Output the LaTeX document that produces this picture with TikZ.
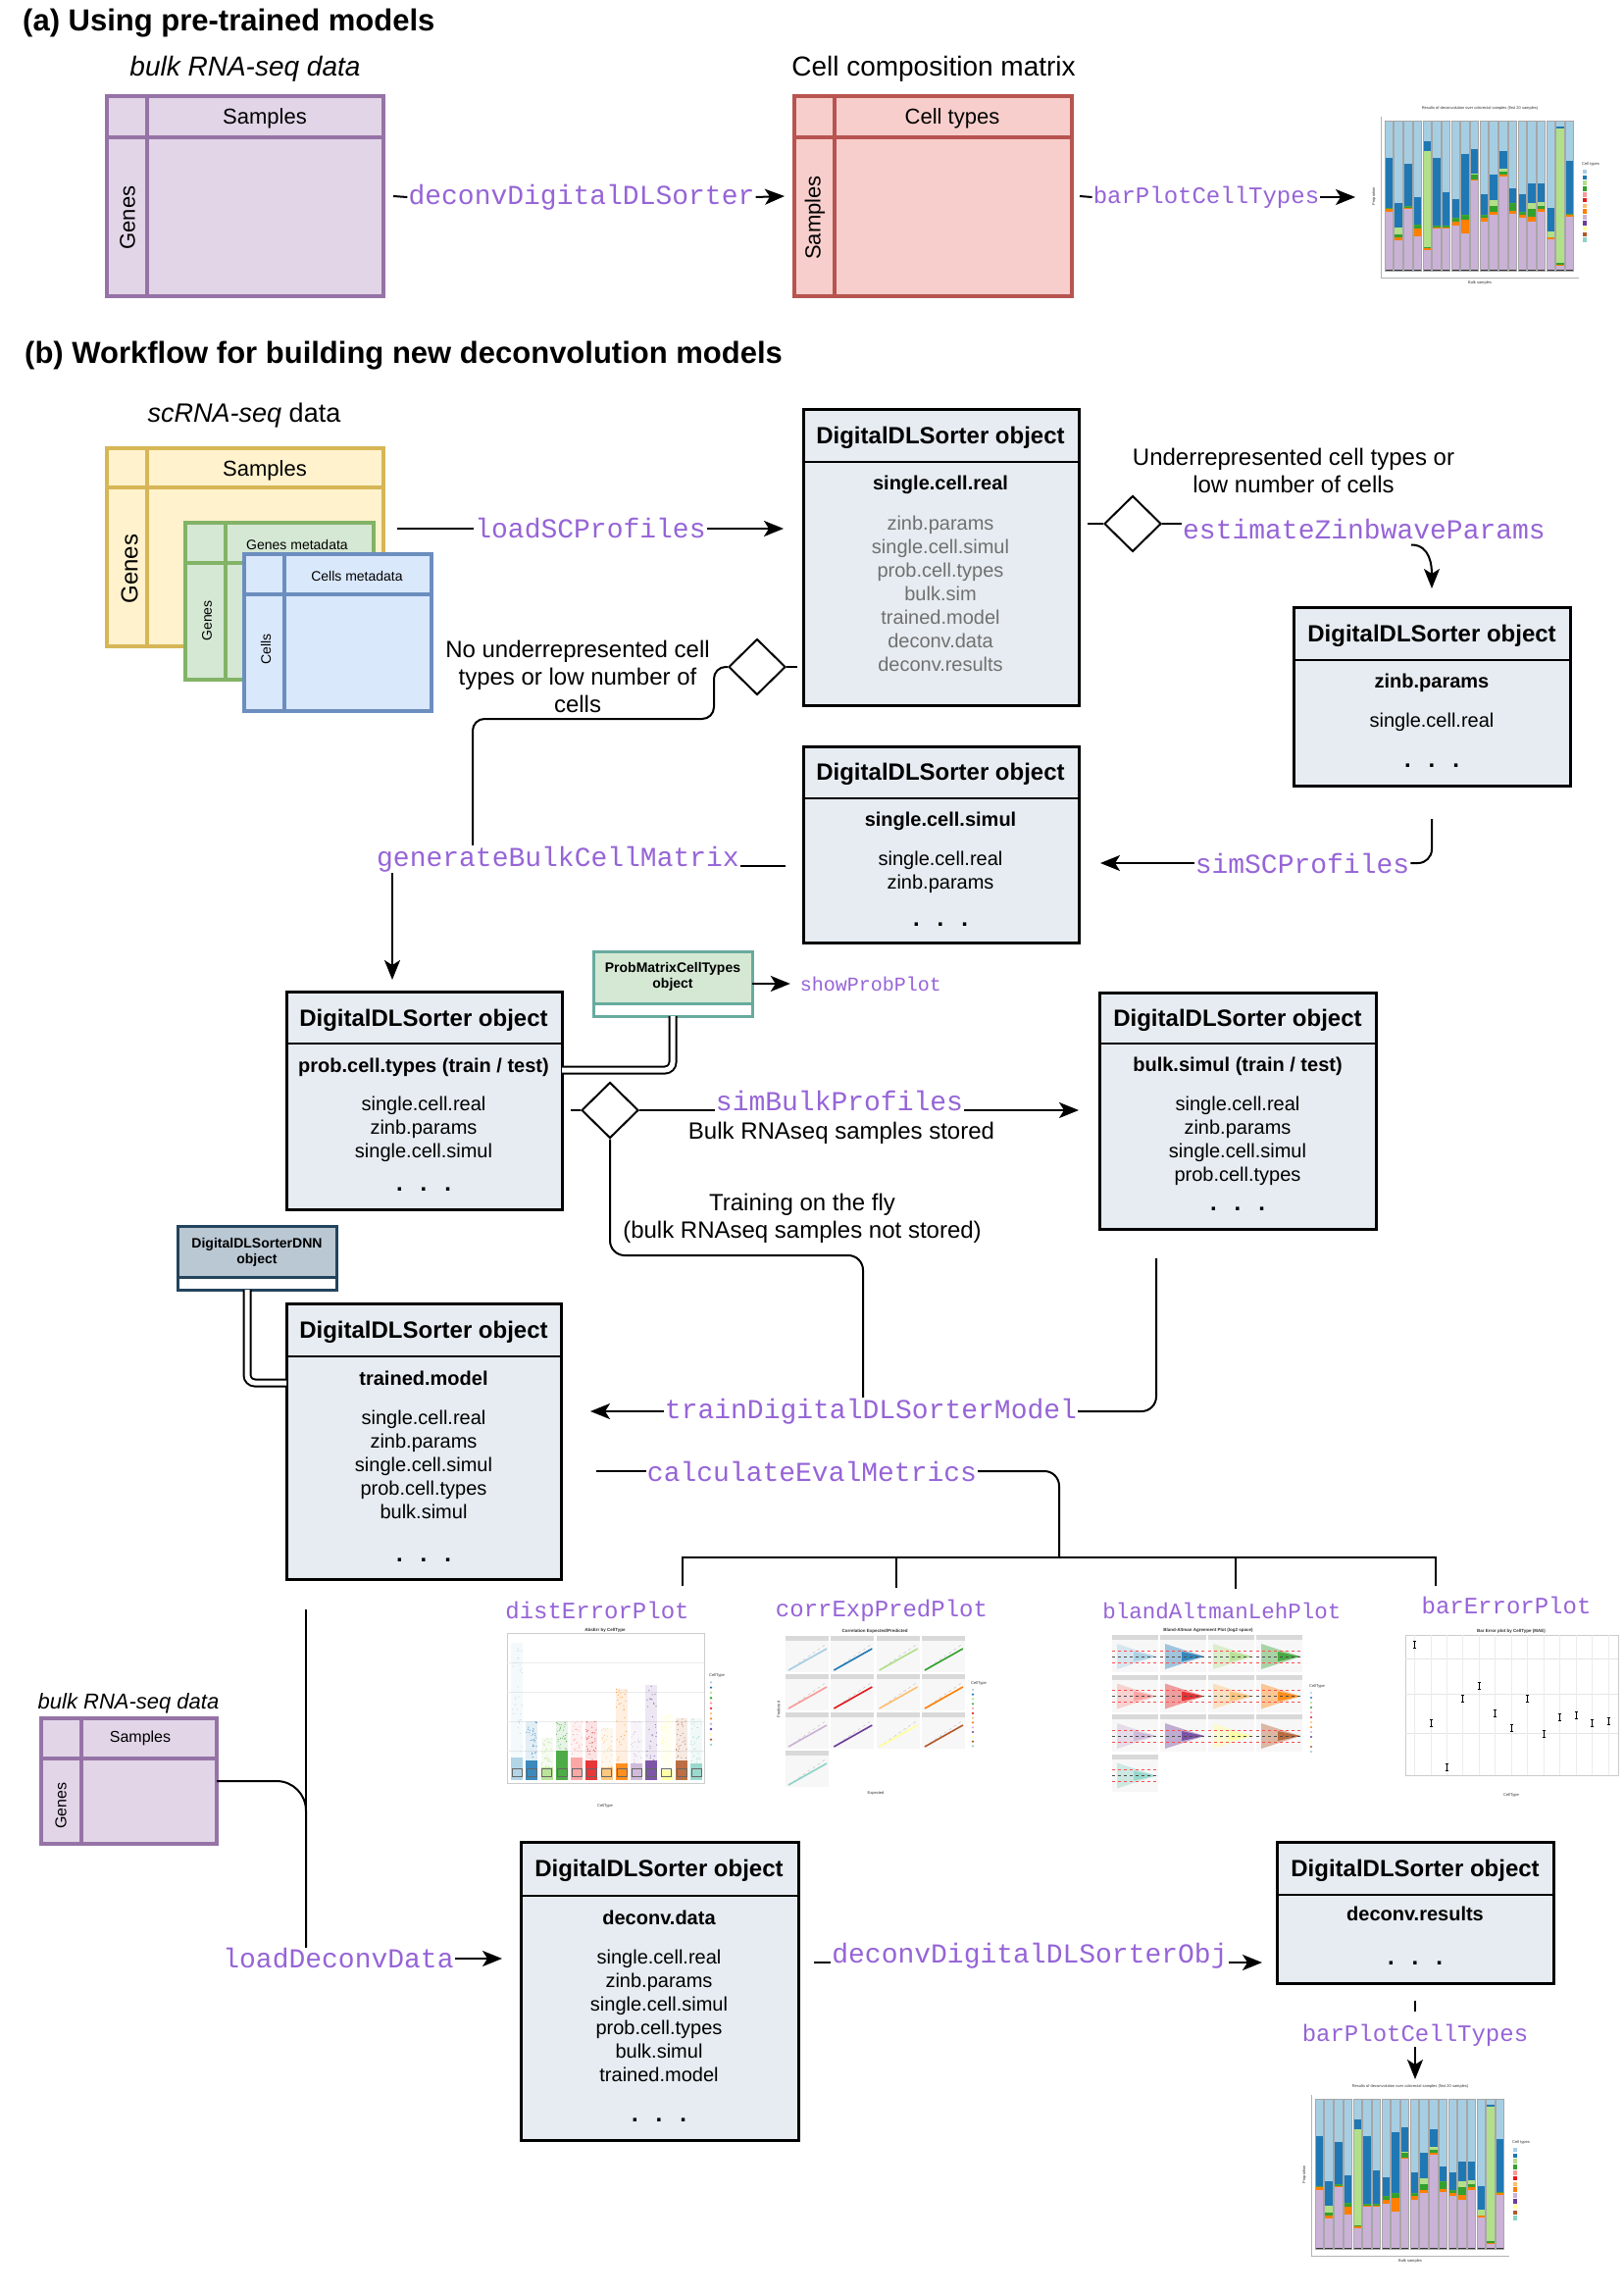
\documentclass[tikz,border=0pt]{standalone}
\usepackage{fontspec}
\setmainfont{Liberation Sans}
\setmonofont{Liberation Mono}
\usetikzlibrary{arrows.meta, shapes.geometric}

\definecolor{fnpurple}{RGB}{150,100,215}
\definecolor{bulkfill}{HTML}{E1D5E7}\definecolor{bulkline}{HTML}{9673A6}
\definecolor{compfill}{HTML}{F8CECC}\definecolor{compline}{HTML}{B85450}
\definecolor{scfill}{HTML}{FFF2CC}\definecolor{scline}{HTML}{D6B656}
\definecolor{genefill}{HTML}{D5E8D4}\definecolor{geneline}{HTML}{82B366}
\definecolor{cellfill}{HTML}{DAE8FC}\definecolor{cellline}{HTML}{6C8EBF}
\definecolor{objfill}{HTML}{E6ECF1}
\definecolor{probline}{HTML}{67AB9F}
\definecolor{dnnfill}{HTML}{BAC8D3}\definecolor{dnnline}{HTML}{23445D}
\definecolor{itemgray}{HTML}{707070}
% paired palette of the plots
\definecolor{cbLBlue}{HTML}{A6CEE3}\definecolor{cbDBlue}{HTML}{1F78B4}
\definecolor{cbLGreen}{HTML}{B2DF8A}\definecolor{cbGreen}{HTML}{33A02C}
\definecolor{cbPink}{HTML}{FB9A99}\definecolor{cbRed}{HTML}{E31A1C}
\definecolor{cbLOrange}{HTML}{FDBF6F}\definecolor{cbOrange}{HTML}{FF7F00}
\definecolor{cbLav}{HTML}{CAB2D6}\definecolor{cbPurple}{HTML}{6A3D9A}
\definecolor{cbYellow}{HTML}{FFFF99}\definecolor{cbBrown}{HTML}{B15928}
\definecolor{cbTeal}{HTML}{8DD3C7}

% stacked bar plot of cell proportions, #1,#2 = top left of the panel
\newcommand{\cellbars}[2]{%
\begin{scope}[shift={(#1,#2)}]
	\node[tinytxt] at (97,-13) {Results of deconvolution over colorectal samples (first 20 samples)};
	\draw[gray!60, line width=0.6pt] (-4,-4) -- (-4,160) -- (198,160);
	\node[tinytxt] at (97,165) {Bulk samples};
	\node[tinytxt, rotate=90] at (-11,77) {Proportion};
	\foreach \pa/\pb/\pc/\pd/\pe [count=\i] in {.39/.41/.42/.42/.75, .20/.22/.24/.29/.45, .41/.42/.43/.43/.71, .23/.28/.31/.31/.49, .14/.15/.16/.80/.86, .28/.29/.30/.30/.75, .28/.29/.30/.30/.52, .30/.33/.35/.35/.48, .25/.34/.37/.37/.78, .60/.61/.64/.65/.81, .33/.35/.37/.37/.51, .37/.39/.43/.47/.64, .63/.64/.66/.68/.80, .38/.40/.45/.45/.55, .35/.37/.39/.39/.51, .33/.36/.41/.45/.58, .39/.41/.43/.46/.58, .21/.22/.22/.26/.42, .03/.04/.05/.95/.96, .36/.37/.38/.38/.73}{
		\pgfmathsetmacro\xl{(\i-1)*9.7}
		\pgfmathsetmacro\xr{\xl+8.4}
		\fill[cbLav] (\xl,153) rectangle (\xr,{153*(1-\pa)});
		\fill[cbOrange] (\xl,{153*(1-\pa)}) rectangle (\xr,{153*(1-\pb)});
		\fill[cbGreen] (\xl,{153*(1-\pb)}) rectangle (\xr,{153*(1-\pc)});
		\fill[cbLGreen] (\xl,{153*(1-\pc)}) rectangle (\xr,{153*(1-\pd)});
		\fill[cbDBlue] (\xl,{153*(1-\pd)}) rectangle (\xr,{153*(1-\pe)});
		\fill[cbLBlue] (\xl,{153*(1-\pe)}) rectangle (\xr,0);
		\fill[black!80] (\xl,151.5) rectangle (\xr,153);
		\draw[gray!70, line width=0.5pt] (\xl,0) rectangle (\xr,153);
	}
	\node[tinytxt, anchor=west] at (201,44) {Cell types};
	\foreach \col [count=\k] in {cbLBlue,cbDBlue,cbLGreen,cbGreen,cbPink,cbRed,cbLOrange,cbOrange,cbLav,cbPurple,cbYellow,cbBrown,cbTeal}
		\fill[\col] (202,{44+\k*5.8}) rectangle (206,{48.5+\k*5.8});
\end{scope}}

\begin{document}
\begin{tikzpicture}[x=1pt, y=-1pt,
	conn/.style={line width=2pt},
	arr/.style={conn, -{Stealth[length=20pt, width=16pt, inset=5pt]}},
	dbl/.style={double, double distance=5pt, line width=2pt},
	fn/.style={font=\fontsize{28}{32}\selectfont\ttfamily, text=fnpurple, inner sep=1pt},
	fnsm/.style={fn, font=\fontsize{24}{28}\selectfont\ttfamily},
	fnxs/.style={fn, font=\fontsize{20}{24}\selectfont\ttfamily},
	note/.style={font=\fontsize{24}{28}\selectfont, align=center, inner sep=0pt},
	matbox/.style={rectangle, line width=4pt, anchor=north west, inner sep=0pt, outer sep=0pt},
	objbox/.style={rectangle, draw=black, line width=3pt, fill=objfill, anchor=north west, inner sep=0pt, outer sep=0pt},
	objtitle/.style={font=\fontsize{24}{28}\selectfont\bfseries, inner sep=0pt},
	objmain/.style={font=\fontsize{20}{24}\selectfont\bfseries, inner sep=0pt},
	objitems/.style={font=\fontsize{20}{24}\selectfont, align=center, inner sep=0pt},
	objdots/.style={font=\fontsize{24}{24}\selectfont\bfseries, inner sep=0pt},
	choice/.style={diamond, draw, line width=2pt, fill=white, minimum width=58pt, minimum height=57pt, inner sep=0pt},
	tinytxt/.style={font=\fontsize{4}{5}\selectfont, inner sep=0pt, text=black!80},
	]
	\useasboundingbox (0,0) rectangle (1656,2339);
	\fill[white] (0,0) rectangle (1656,2339);

	% ---- (a) pre-trained models
	\node[font=\fontsize{31}{36}\selectfont\bfseries, anchor=base west, inner sep=0pt] (titleA) at (23,32) {(a) Using pre-trained models};
	\node[font=\fontsize{28}{32}\selectfont\itshape, anchor=base, inner sep=0pt] (capBulkA) at (250,78) {bulk RNA-seq data};
	\node[font=\fontsize{28}{32}\selectfont, anchor=base, inner sep=0pt] (capComp) at (952,78) {Cell composition matrix};

	\node[matbox, draw=bulkline, fill=bulkfill, minimum width=282pt, minimum height=204pt] (bulkA) at (109,98) {};
	\draw[bulkline, line width=4pt] ([xshift=41pt]bulkA.north west) -- ([xshift=41pt]bulkA.south west)
		([yshift=-42pt]bulkA.north west) -- ([yshift=-42pt]bulkA.north east);
	\node[font=\fontsize{22}{26}\selectfont] (bulkAs) at (270,121) {Samples};
	\node[font=\fontsize{22}{26}\selectfont, rotate=90] (bulkAg) at (130,222) {Genes};

	\node[matbox, draw=compline, fill=compfill, minimum width=283pt, minimum height=204pt] (compA) at (810,98) {};
	\draw[compline, line width=4pt] ([xshift=41pt]compA.north west) -- ([xshift=41pt]compA.south west)
		([yshift=-42pt]compA.north west) -- ([yshift=-42pt]compA.north east);
	\node[font=\fontsize{22}{26}\selectfont] (compAc) at (971,121) {Cell types};
	\node[font=\fontsize{22}{26}\selectfont, rotate=90] (compAs) at (831,222) {Samples};

	\node[fn] (lblDeconvA) at (593,201) {deconvDigitalDLSorter};
	\draw[conn] ([xshift=10pt]bulkA.east) -- (lblDeconvA.west);
	\draw[arr] (lblDeconvA.east) -- ([xshift=-10pt]compA.west);

	\node[fnsm] (lblBarA) at (1230,201) {barPlotCellTypes};
	\coordinate (barAIn) at (1382,201);
	\draw[conn] ([xshift=8pt]compA.east) -- (lblBarA.west);
	\draw[arr] (lblBarA.east) -- (barAIn);
	\cellbars{1412}{123}

	% ---- (b) new models
	\node[font=\fontsize{31}{36}\selectfont\bfseries, anchor=base west, inner sep=0pt] (titleB) at (25,370) {(b) Workflow for building new deconvolution models};
	\node[font=\fontsize{27}{32}\selectfont, anchor=base, inner sep=0pt] (capSc) at (249,430) {\textit{scRNA-seq} data};

	\node[matbox, draw=scline, fill=scfill, minimum width=282pt, minimum height=202pt] (scYellow) at (109,457) {};
	\draw[scline, line width=4pt] ([xshift=41pt]scYellow.north west) -- ([xshift=41pt]scYellow.south west)
		([yshift=-40pt]scYellow.north west) -- ([yshift=-40pt]scYellow.north east);
	\node[font=\fontsize{22}{26}\selectfont] (scYs) at (270,480) {Samples};
	\node[font=\fontsize{24}{28}\selectfont, rotate=90] (scYg) at (132,580) {Genes};

	\node[matbox, draw=geneline, fill=genefill, minimum width=192pt, minimum height=160pt] (scGreen) at (189,533) {};
	\draw[geneline, line width=4pt] ([xshift=41pt]scGreen.north west) -- ([xshift=41pt]scGreen.south west)
		([yshift=-41pt]scGreen.north west) -- ([yshift=-41pt]scGreen.north east);
	\node[font=\fontsize{14}{16}\selectfont] (scGm) at (303,555) {Genes metadata};
	\node[font=\fontsize{14}{16}\selectfont, rotate=90] (scGg) at (211,633) {Genes};

	\node[matbox, draw=cellline, fill=cellfill, minimum width=191pt, minimum height=160pt] (scBlue) at (249,565) {};
	\draw[cellline, line width=4pt] ([xshift=41pt]scBlue.north west) -- ([xshift=41pt]scBlue.south west)
		([yshift=-41pt]scBlue.north west) -- ([yshift=-41pt]scBlue.north east);
	\node[font=\fontsize{14}{16}\selectfont] (scBm) at (364,587) {Cells metadata};
	\node[font=\fontsize{14}{16}\selectfont, rotate=90] (scBc) at (271,662) {Cells};

	% DigitalDLSorter objects
	\node[objbox, minimum width=281pt, minimum height=302pt] (objReal) at (819,417) {};
	\draw[line width=2.5pt] ([yshift=-54pt]objReal.north west) -- ([yshift=-54pt]objReal.north east);
	\node[objtitle] (objRealT) at (959,446) {DigitalDLSorter object};
	\node[objmain] (objRealM) at (959,494) {single.cell.real};
	\node[objitems, text=itemgray] (objRealI) at (959,605) {zinb.params\\single.cell.simul\\prob.cell.types\\bulk.sim\\trained.model\\deconv.data\\deconv.results};

	\node[objbox, minimum width=282pt, minimum height=182pt] (objZinb) at (1319,619) {};
	\draw[line width=2.5pt] ([yshift=-54pt]objZinb.north west) -- ([yshift=-54pt]objZinb.north east);
	\node[objtitle] (objZinbT) at (1460,648) {DigitalDLSorter object};
	\node[objmain] (objZinbM) at (1460,696) {zinb.params};
	\node[objitems] (objZinbI) at (1460,736) {single.cell.real};
	\node[objdots] (objZinbD) at (1460,781) {.\hspace{18pt}.\hspace{18pt}.};

	\node[objbox, minimum width=281pt, minimum height=200pt] (objSimul) at (819,761) {};
	\draw[line width=2.5pt] ([yshift=-53pt]objSimul.north west) -- ([yshift=-53pt]objSimul.north east);
	\node[objtitle] (objSimulT) at (959,789) {DigitalDLSorter object};
	\node[objmain] (objSimulM) at (959,837) {single.cell.simul};
	\node[objitems] (objSimulI) at (959,889) {single.cell.real\\zinb.params};
	\node[objdots] (objSimulD) at (959,943) {.\hspace{18pt}.\hspace{18pt}.};

	\node[objbox, minimum width=281pt, minimum height=222pt] (objProb) at (292,1011) {};
	\draw[line width=2.5pt] ([yshift=-53pt]objProb.north west) -- ([yshift=-53pt]objProb.north east);
	\node[objtitle] (objProbT) at (432,1040) {DigitalDLSorter object};
	\node[objmain] (objProbM) at (432,1088) {prob.cell.types (train / test)};
	\node[objitems] (objProbI) at (432,1151) {single.cell.real\\zinb.params\\single.cell.simul};
	\node[objdots] (objProbD) at (432,1213) {.\hspace{18pt}.\hspace{18pt}.};

	\node[objbox, minimum width=282pt, minimum height=241pt] (objBulk) at (1121,1012) {};
	\draw[line width=2.5pt] ([yshift=-52pt]objBulk.north west) -- ([yshift=-52pt]objBulk.north east);
	\node[objtitle] (objBulkT) at (1262,1040) {DigitalDLSorter object};
	\node[objmain] (objBulkM) at (1262,1087) {bulk.simul (train / test)};
	\node[objitems] (objBulkI) at (1262,1163) {single.cell.real\\zinb.params\\single.cell.simul\\prob.cell.types};
	\node[objdots] (objBulkD) at (1262,1233) {.\hspace{18pt}.\hspace{18pt}.};

	\node[objbox, minimum width=280pt, minimum height=281pt] (objTrained) at (292,1329) {};
	\draw[line width=2.5pt] ([yshift=-54pt]objTrained.north west) -- ([yshift=-54pt]objTrained.north east);
	\node[objtitle] (objTrainedT) at (432,1358) {DigitalDLSorter object};
	\node[objmain] (objTrainedM) at (432,1405) {trained.model};
	\node[objitems] (objTrainedI) at (432,1493) {single.cell.real\\zinb.params\\single.cell.simul\\prob.cell.types\\bulk.simul};
	\node[objdots] (objTrainedD) at (432,1591) {.\hspace{18pt}.\hspace{18pt}.};

	\node[objbox, minimum width=283pt, minimum height=304pt] (objDeconv) at (531,1878) {};
	\draw[line width=2.5pt] ([yshift=-55pt]objDeconv.north west) -- ([yshift=-55pt]objDeconv.north east);
	\node[objtitle] (objDeconvT) at (672,1907) {DigitalDLSorter object};
	\node[objmain] (objDeconvM) at (672,1955) {deconv.data};
	\node[objitems] (objDeconvI) at (672,2055) {single.cell.real\\zinb.params\\single.cell.simul\\prob.cell.types\\bulk.simul\\trained.model};
	\node[objdots] (objDeconvD) at (672,2162) {.\hspace{18pt}.\hspace{18pt}.};

	\node[objbox, minimum width=282pt, minimum height=144pt] (objRes) at (1302,1878) {};
	\draw[line width=2.5pt] ([yshift=-54pt]objRes.north west) -- ([yshift=-54pt]objRes.north east);
	\node[objtitle] (objResT) at (1443,1907) {DigitalDLSorter object};
	\node[objmain] (objResM) at (1443,1951) {deconv.results};
	\node[objdots] (objResD) at (1443,2002) {.\hspace{18pt}.\hspace{18pt}.};

	% small helper objects
	\node[rectangle, draw=probline, fill=white, line width=3pt, anchor=north west, minimum width=162pt, minimum height=66pt, outer sep=0pt] (probMat) at (605,970) {};
	\draw[probline, fill=genefill, line width=3pt] (605,970) rectangle (767,1023);
	\node[font=\fontsize{14}{16}\selectfont\bfseries, align=center, inner sep=0pt] (probTxt) at (686,996) {ProbMatrixCellTypes\\object};

	\node[rectangle, draw=dnnline, fill=white, line width=3pt, anchor=north west, minimum width=162pt, minimum height=65pt, outer sep=0pt] (dnn) at (181,1250) {};
	\draw[dnnline, fill=dnnfill, line width=3pt] (181,1250) rectangle (343,1302);
	\node[font=\fontsize{14}{16}\selectfont\bfseries, align=center, inner sep=0pt] (dnnTxt) at (262,1277) {DigitalDLSorterDNN\\object};

	% loadSCProfiles
	\coordinate (scOut) at (405,539);
	\node[fn] (lblLoadSC) at (602,539) {loadSCProfiles};
	\draw[conn] (scOut) -- (lblLoadSC.west);
	\draw[arr, shorten >=20pt] (lblLoadSC.east) -- (objReal.west |- lblLoadSC.east);

	% branch: underrepresented cell types
	\node[choice] (diamUnder) at (1155,534) {};
	\node[fn] (lblZinb) at (1391,539) {estimateZinbwaveParams};
	\node[note] (txtUnder) at (1319,480) {Underrepresented cell types or\\low number of cells};
	\draw[conn, shorten <=9pt] (objReal.east |- diamUnder) -- (diamUnder.west);
	\draw[conn] (diamUnder.east) -- (lblZinb.west |- diamUnder.east);
	\draw[arr] ([xshift=48pt,yshift=-5pt]lblZinb.south) .. controls +(20,0) and +(0,-22) .. ([yshift=19pt]objZinb.north);

	\node[fn] (lblSimSC) at (1328,880) {simSCProfiles};
	\draw[conn, rounded corners=14pt] ([yshift=-34pt]objZinb.south) |- (lblSimSC.east);
	\draw[arr, shorten >=22pt] (lblSimSC.west) -- (objSimul.east |- lblSimSC.west);

	% branch: no underrepresented cell types
	\node[choice] (diamNo) at (772,680) {};
	\node[note] (txtNo) at (589,690) {No underrepresented cell\\types or low number of\\cells};
	\node[fn] (lblGen) at (569,876) {generateBulkCellMatrix};
	\coordinate (genBend) at (482,733);
	\coordinate (genDown) at (400,999);
	\draw[conn, shorten <=6pt] (objReal.west |- diamNo) -- (diamNo.east);
	\draw[conn, rounded corners=12pt] (diamNo.west) -- (728,680) -- (728,733) -- (genBend) -- (genBend |- lblGen.north);
	\draw[conn, shorten >=18pt] (lblGen.base east) -- (objSimul.west |- lblGen.base east);
	\draw[arr] (genDown |- lblGen.south) -- (genDown);

	% probabilities
	\node[fnxs] (lblShow) at (888,1003) {showProbPlot};
	\draw[arr] (probMat.east |- lblShow) -- ([xshift=-9pt]lblShow.west);
	\coordinate (probLink) at (686,1091);
	\draw[dbl, rounded corners=8pt] (probMat.south) -- (probLink) -- (objProb.east |- probLink);

	\node[choice] (diamBulk) at (622,1132) {};
	\node[fn, anchor=base] (lblSimBulk) at (856,1132) {simBulkProfiles};
	\node[note] (txtStored) at (858,1155) {Bulk RNAseq samples stored};
	\draw[conn, shorten <=9pt] (objProb.east |- diamBulk) -- (diamBulk.west);
	\draw[conn] (diamBulk.east) -- (lblSimBulk.base west);
	\draw[arr, shorten >=21pt] (lblSimBulk.base east) -- (objBulk.west |- lblSimBulk.base east);

	% training
	\node[fn] (lblTrain) at (888,1439) {trainDigitalDLSorterModel};
	\node[note] (txtFly) at (818,1242) {Training on the fly\\(bulk RNAseq samples not stored)};
	\coordinate (trainBend) at (880,1280);
	\coordinate (bulkDown) at (1179,1283);
	\draw[conn, rounded corners=15pt] (diamBulk.south) |- (trainBend) -- (trainBend |- lblTrain.north);
	\draw[conn, rounded corners=15pt] (bulkDown) |- (lblTrain.east);
	\draw[arr, shorten >=30pt] (lblTrain.west) -- (objTrained.east |- lblTrain.west);
	\coordinate (dnnLink) at (252,1410);
	\draw[dbl, rounded corners=8pt] (dnnLink |- dnn.south) -- (dnnLink) -- (objTrained.west |- dnnLink);

	% evaluation
	\node[fn] (lblEval) at (828,1500) {calculateEvalMetrics};
	\coordinate (evalTree) at (1080,1588);
	\coordinate (t1) at (696,1617);
	\coordinate (t2) at (914,1619);
	\coordinate (t3) at (1260,1620);
	\coordinate (t4) at (1464,1617);
	\draw[conn] ([xshift=36pt]objTrained.east |- lblEval.west) -- (lblEval.west);
	\draw[conn, rounded corners=15pt] (lblEval.east) -| (evalTree);
	\draw[conn] (t1) -- (t1 |- evalTree) -- (t4 |- evalTree) -- (t4);
	\draw[conn] (t2 |- evalTree) -- (t2) (t3 |- evalTree) -- (t3);
	\node[fnsm] (lblDist) at (609,1642) {distErrorPlot};
	\node[fnsm] (lblCorr) at (899,1642) {corrExpPredPlot};
	\node[fnsm, font=\fontsize{22.5}{26}\selectfont\ttfamily] (lblBland) at (1246,1642) {blandAltmanLehPlot};
	\node[fnsm] (lblBarErr) at (1536,1637) {barErrorPlot};

	% distErrorPlot
	\begin{scope}[shift={(517,1665)}]
		\node[tinytxt, font=\fontsize{4.5}{5}\selectfont\bfseries] at (100,-3) {AbsErr by CellType};
		\draw[gray!40, line width=0.6pt] (0,0) rectangle (201,153);
		\foreach \y in {30,60,90,120} \draw[gray!15, line width=0.4pt] (0,\y) -- (201,\y);
		\pgfmathsetseed{11}
		\foreach \st/\dn/\col [count=\i] in {10/127/cbLBlue, 90/130/cbDBlue, 107/137/cbLGreen, 90/120/cbGreen, 90/127/cbPink, 90/130/cbRed, 97/137/cbLOrange, 57/133/cbOrange, 90/133/cbLav, 53/130/cbPurple, 83/140/cbYellow, 87/130/cbBrown, 87/133/cbTeal}{
			\pgfmathsetmacro\xc{10+(\i-1)*15.25}
			\fill[\col, opacity=0.12] ({\xc-6},150) rectangle ({\xc+6},\st);
			\foreach \n in {1,...,30}{
				\pgfmathsetmacro\rx{\xc+5.5*rand}
				\pgfmathsetmacro\ry{\st+(\dn-\st)*rnd}
				\fill[\col, opacity=0.7] (\rx,\ry) circle (0.6pt);
			}
			\fill[\col, opacity=0.85] ({\xc-6},150) rectangle ({\xc+6},\dn);
			\draw[black!60, line width=0.5pt] ({\xc-5},146) rectangle ({\xc+5},138);
		}
		\node[tinytxt] at (100,176) {CellType};
		\node[tinytxt, anchor=west] at (206,43) {CellType};
		\foreach \col [count=\k] in {cbLBlue,cbDBlue,cbLGreen,cbGreen,cbPink,cbRed,cbLOrange,cbOrange,cbLav,cbPurple,cbYellow,cbBrown,cbTeal}
			\fill[\col] (208,{45+\k*5.3}) circle (1.3pt);
	\end{scope}

	% corrExpPredPlot
	\begin{scope}[shift={(801,1668)}]
		\node[tinytxt, font=\fontsize{4.5}{5}\selectfont\bfseries] at (91,-5) {Correlation Expected/Predicted};
		\foreach \col [count=\i] in {cbLBlue,cbDBlue,cbLGreen,cbGreen,cbPink,cbRed,cbLOrange,cbOrange,cbLav,cbPurple,cbYellow,cbBrown,cbTeal}{
			\pgfmathtruncatemacro\cc{mod(\i-1,4)}
			\pgfmathtruncatemacro\rr{(\i-1)/4}
			\pgfmathsetmacro\xo{\cc*46.3}
			\pgfmathsetmacro\yo{\rr*39}
			\fill[gray!6] (\xo,\yo) rectangle ({\xo+44},{\yo+37});
			\fill[gray!30] (\xo,\yo) rectangle ({\xo+44},{\yo+5});
			\draw[gray!60, dashed, line width=0.3pt] ({\xo+3},{\yo+35}) -- ({\xo+42},{\yo+8});
			\draw[\col, line width=1.6pt] ({\xo+3},{\yo+35}) -- ({\xo+42},{\yo+13});
		}
		\node[tinytxt] at (92,160) {Expected};
		\node[tinytxt, rotate=90] at (-7,75) {Predicted};
		\node[tinytxt, anchor=west] at (189,48) {CellType};
		\foreach \col [count=\k] in {cbLBlue,cbDBlue,cbLGreen,cbGreen,cbPink,cbRed,cbLOrange,cbOrange,cbLav,cbPurple,cbYellow,cbBrown,cbTeal}
			\fill[\col] (191,{50+\k*4.8}) circle (1.2pt);
	\end{scope}

	% blandAltmanLehPlot
	\begin{scope}[shift={(1134,1667)}]
		\node[tinytxt, font=\fontsize{4.5}{5}\selectfont\bfseries] at (98,-5) {Bland-Altman Agreement Plot (log2 space)};
		\foreach \col [count=\i] in {cbLBlue,cbDBlue,cbLGreen,cbGreen,cbPink,cbRed,cbLOrange,cbOrange,cbLav,cbPurple,cbYellow,cbBrown,cbTeal}{
			\pgfmathtruncatemacro\cc{mod(\i-1,4)}
			\pgfmathtruncatemacro\rr{(\i-1)/4}
			\pgfmathsetmacro\xo{\cc*49}
			\pgfmathsetmacro\yo{\rr*40.5}
			\fill[gray!6] (\xo,\yo) rectangle ({\xo+47},{\yo+38});
			\fill[gray!30] (\xo,\yo) rectangle ({\xo+47},{\yo+5});
			\fill[\col, opacity=0.4] ({\xo+5},{\yo+9}) -- ({\xo+45},{\yo+22}) -- ({\xo+5},{\yo+35}) -- cycle;
			\fill[\col, opacity=0.8] ({\xo+22},{\yo+17}) -- ({\xo+45},{\yo+22}) -- ({\xo+22},{\yo+27}) -- cycle;
			\draw[red!70, dashed, line width=0.4pt] (\xo,{\yo+16}) -- ({\xo+47},{\yo+16}) (\xo,{\yo+28}) -- ({\xo+47},{\yo+28});
			\draw[black!70, dashed, line width=0.4pt] (\xo,{\yo+22}) -- ({\xo+47},{\yo+22});
		}
		\node[tinytxt, anchor=west] at (201,52) {CellType};
		\foreach \col [count=\k] in {cbLBlue,cbDBlue,cbLGreen,cbGreen,cbPink,cbRed,cbLOrange,cbOrange,cbLav,cbPurple,cbYellow,cbBrown,cbTeal}
			\fill[\col] (203,{54+\k*5}) circle (1.2pt);
	\end{scope}

	% barErrorPlot
	\begin{scope}[shift={(1433,1667)}]
		\node[tinytxt, font=\fontsize{4.5}{5}\selectfont\bfseries] at (108,-4) {Bar Error plot by CellType (MAE)};
		\draw[gray!40, line width=0.6pt] (0,0) rectangle (217,143);
		\foreach \y in {24,60,100} \draw[gray!20, line width=0.4pt] (0,\y) -- (217,\y);
		\foreach \px/\py in {9/10, 26/90, 42/135, 58/65, 75/52, 91/80, 108/95, 124/65, 141/101, 157/84, 174/82, 190/90, 207/88}{
			\draw[gray!15, line width=0.4pt] (\px,0) -- (\px,143);
			\draw[black, line width=0.7pt] (\px,{\py-3.5}) -- (\px,{\py+3.5}) ({\px-1.5},{\py-3.5}) -- ({\px+1.5},{\py-3.5}) ({\px-1.5},{\py+3.5}) -- ({\px+1.5},{\py+3.5});
		}
		\node[tinytxt] at (108,163) {CellType};
	\end{scope}

	% ---- new bulk samples
	\node[font=\fontsize{22}{26}\selectfont\itshape, inner sep=0pt] (capBulkB) at (131,1737) {bulk RNA-seq data};
	\node[matbox, line width=3.5pt, draw=bulkline, fill=bulkfill, minimum width=179pt, minimum height=128pt] (bulkB) at (42,1752) {};
	\draw[bulkline, line width=3.5pt] ([xshift=41pt]bulkB.north west) -- ([xshift=41pt]bulkB.south west)
		([yshift=-41pt]bulkB.north west) -- ([yshift=-41pt]bulkB.north east);
	\node[font=\fontsize{16}{19}\selectfont] (bulkBs) at (143,1772) {Samples};
	\node[font=\fontsize{16}{19}\selectfont, rotate=90] (bulkBg) at (62,1841) {Genes};

	\node[fn] (lblLoadDec) at (345,1997) {loadDeconvData};
	\coordinate (trainedDown) at (312,1641);
	\draw[conn] (trainedDown) -- (trainedDown |- lblLoadDec.north);
	\draw[conn, rounded corners=30pt] (bulkB.east) -| (trainedDown |- lblLoadDec.north);
	\draw[arr, shorten >=19pt] (lblLoadDec.east) -- (objDeconv.west |- lblLoadDec.east);

	\node[fn, anchor=base] (lblDecObj) at (1050,2001) {deconvDigitalDLSorterObj};
	\draw[conn] ([xshift=16pt]objDeconv.east |- lblDecObj.base west) -- (lblDecObj.base west);
	\draw[arr, shorten >=15pt] (lblDecObj.base east) -- (objRes.west |- lblDecObj.base east);

	\node[fnsm] (lblBarB) at (1443,2075) {barPlotCellTypes};
	\coordinate (barBIn) at (1443,2120);
	\draw[conn] ([yshift=-18pt]objRes.south) -- ([yshift=-29pt]objRes.south);
	\draw[arr] (lblBarB.south) -- (barBIn);
	\cellbars{1341}{2140}
\end{tikzpicture}
\end{document}
